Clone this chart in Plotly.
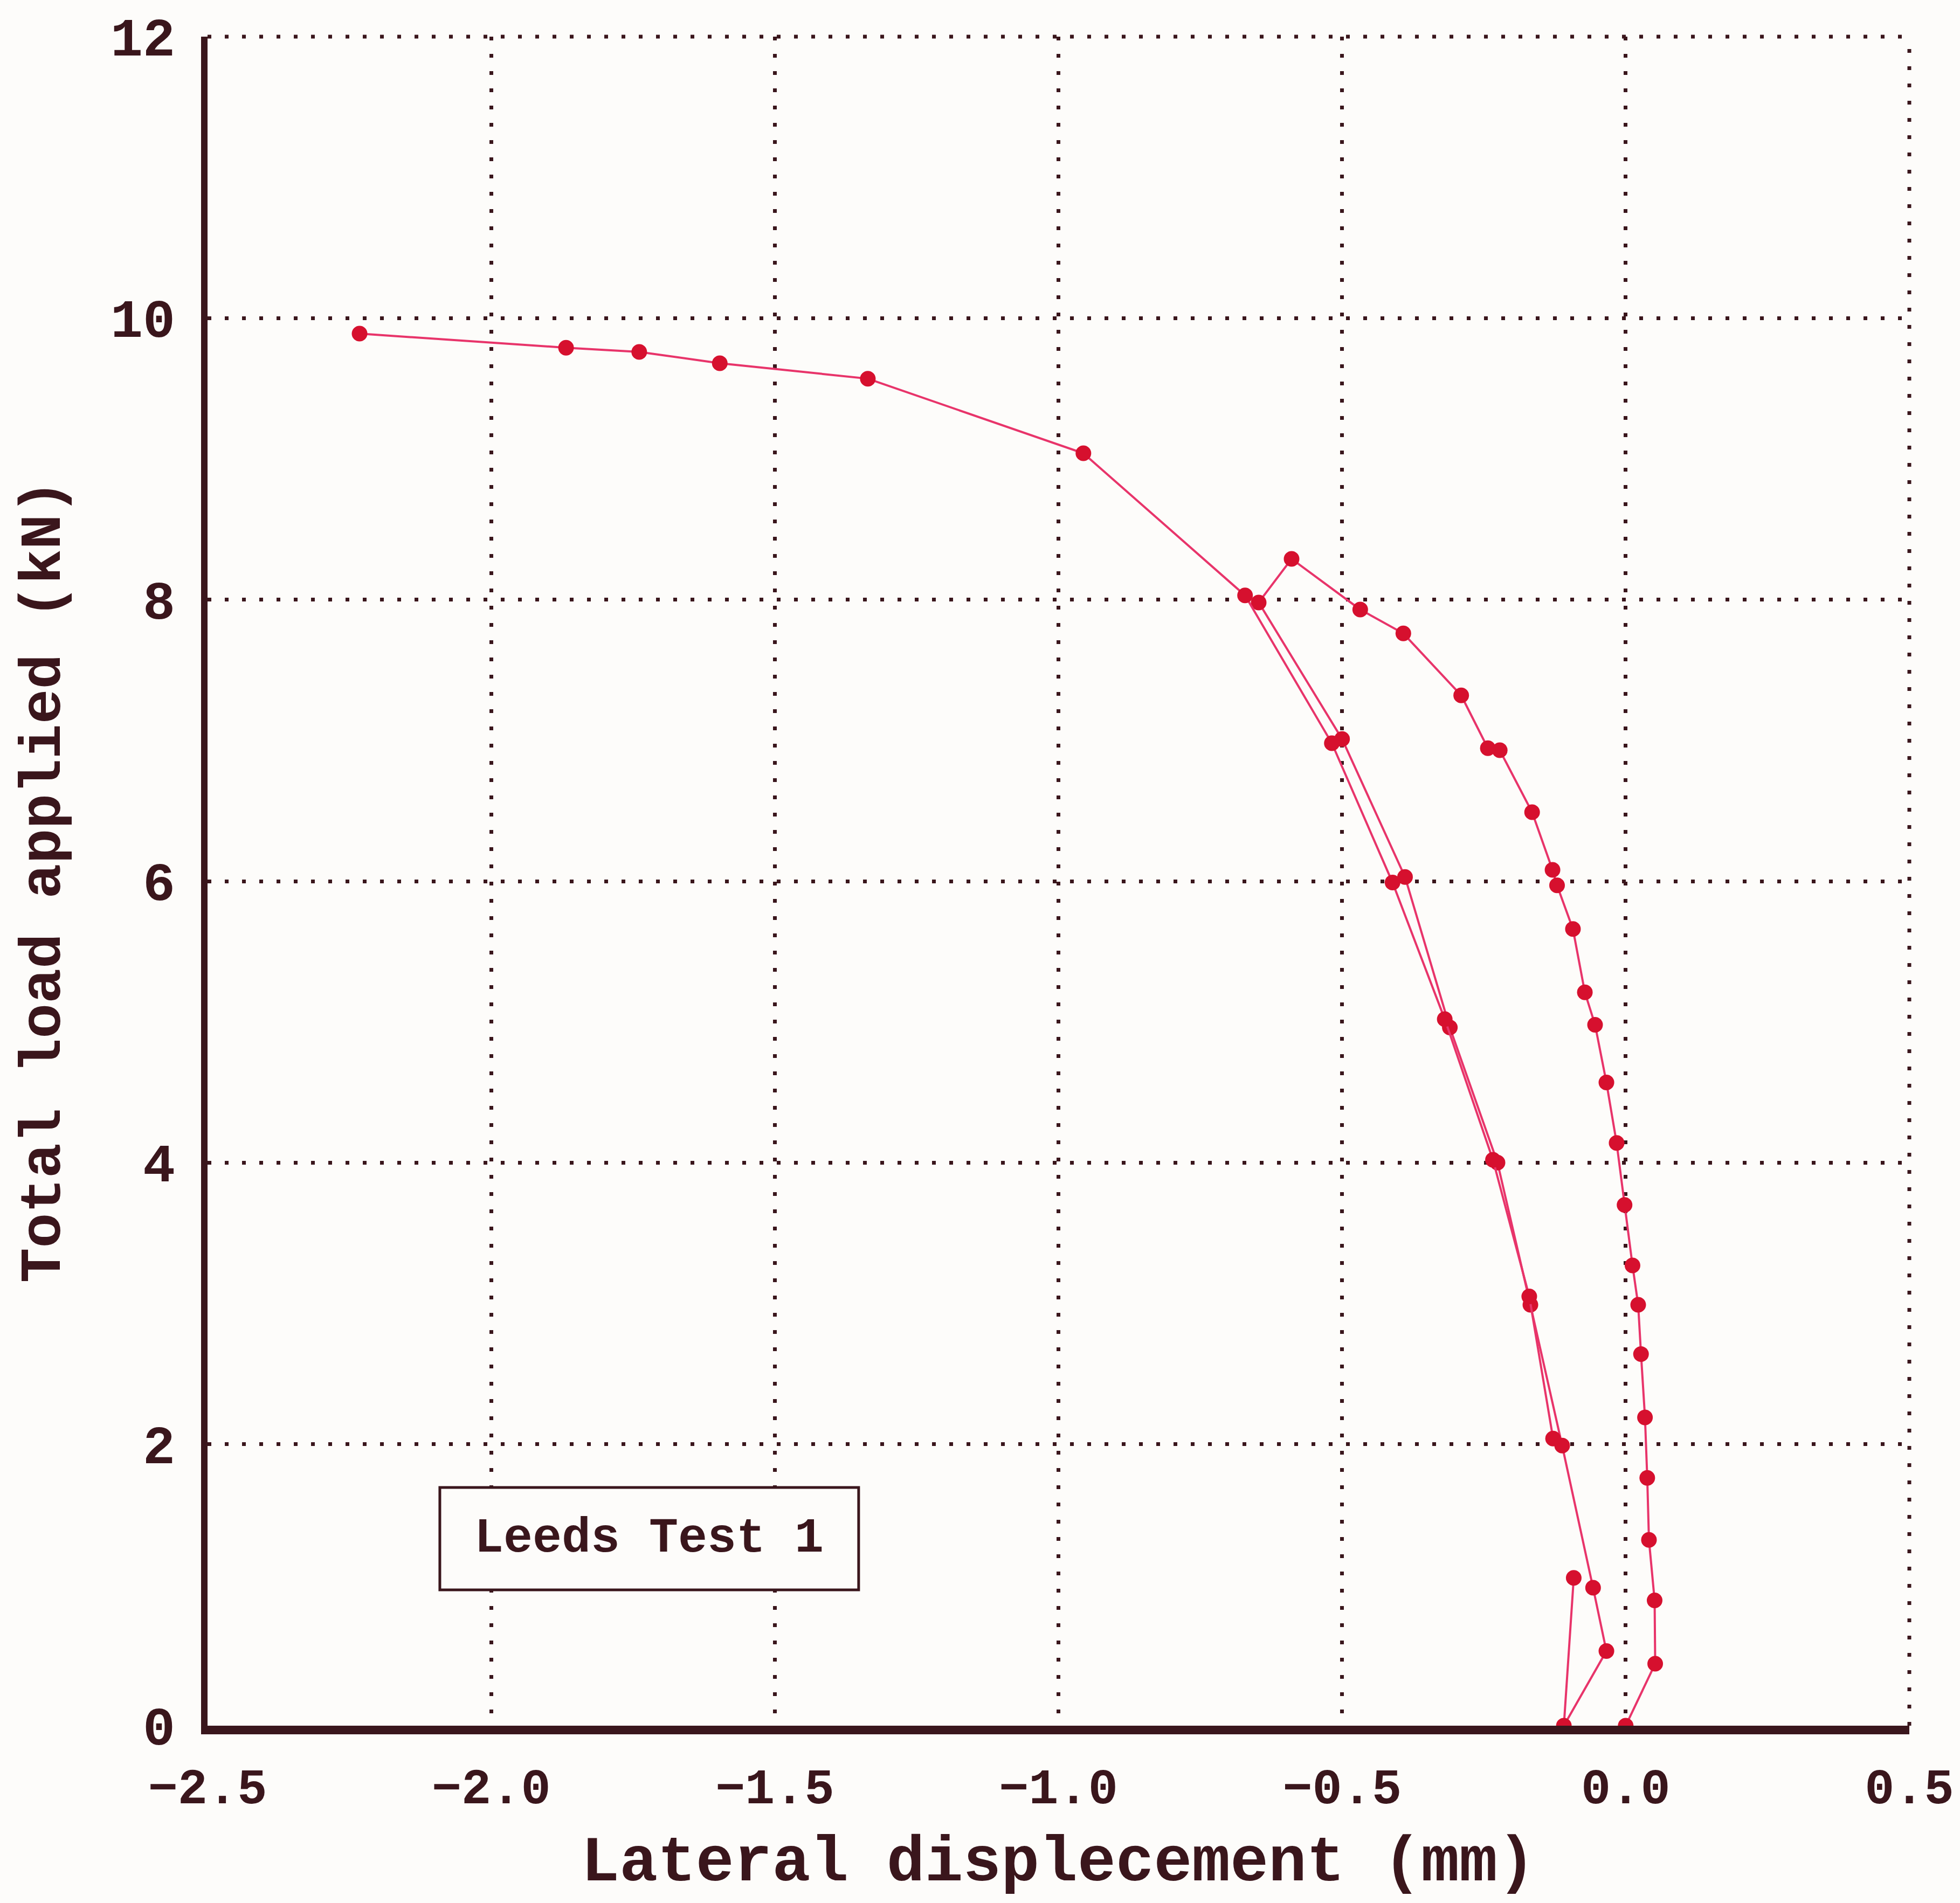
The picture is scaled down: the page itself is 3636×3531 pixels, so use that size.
import plotly.graph_objects as go

# ---- data ----
# first loading path, then unloading branch
load_x = [0.0, 0.052, 0.051, 0.041, 0.038, 0.034, 0.027, 0.022, 0.012, -0.002,
          -0.016, -0.034, -0.054, -0.072, -0.093, -0.121, -0.129, -0.165, -0.222,
          -0.243, -0.290, -0.392, -0.468, -0.589, -0.647, -0.500, -0.389, -0.310,
          -0.226, -0.168, -0.112, -0.0575, -0.034, -0.109, -0.0916]
load_y = [0.0, 0.44, 0.89, 1.32, 1.76, 2.19, 2.64, 2.99, 3.27, 3.70,
          4.14, 4.57, 4.98, 5.21, 5.66, 5.97, 6.08, 6.49, 6.93,
          6.945, 7.32, 7.76, 7.93, 8.29, 7.98, 7.01, 6.03, 4.96,
          4.00, 2.99, 1.99, 0.98, 0.53, 0.0, 1.05]
# reloading branch to failure
reload_x = [-0.128, -0.170, -0.234, -0.319, -0.411, -0.518, -0.671, -0.956,
            -1.336, -1.597, -1.739, -1.868, -2.232]
reload_y = [2.04, 3.05, 4.02, 5.02, 5.99, 6.98, 8.03, 9.04,
            9.57, 9.68, 9.76, 9.79, 9.89]

x_range = [-2.5, 0.5]
y_range = [0, 12]
x_tickvals = [-2.5, -2.0, -1.5, -1.0, -0.5, 0.0, 0.5]
x_ticktext = ["\u22122.5", "\u22122.0", "\u22121.5", "\u22121.0", "\u22120.5", "0.0", "0.5"]
y_tickvals = [0, 2, 4, 6, 8, 10, 12]
y_ticktext = ["0", "2", "4", "6", "8", "10", "12"]

x_title = "Lateral displecement (mm)"
y_title = "Total load applied (kN)"
label_text = "Leeds Test 1"

# ---- styling ----
INK = "#3a161c"
LINE = "#e8346a"
DOT = "#d6102e"
BG = "#fdfcfa"
FONT = "Liberation Mono, Courier New, monospace"
GRID_DASH = "7px,25px"

fig = go.Figure()
for xs, ys in [(load_x, load_y), (reload_x, reload_y)]:
    fig.add_trace(go.Scatter(
        x=xs, y=ys, mode="lines+markers",
        line=dict(color=LINE, width=4),
        marker=dict(color=DOT, size=29, line=dict(width=0)),
        showlegend=False,
    ))

axis_common = dict(
    showgrid=True, gridcolor=INK, gridwidth=7, griddash=GRID_DASH,
    zeroline=False, showline=True, linecolor=INK,
    ticks="outside", tickcolor="rgba(0,0,0,0)",
)

fig.update_xaxes(
    range=x_range, tickvals=x_tickvals, ticktext=x_ticktext,
    linewidth=16, ticklen=18,
    tickfont=dict(family=FONT, size=92, color=INK, weight="bold"),
    title=dict(text=x_title, font=dict(family=FONT, size=118, color=INK, weight="bold"), standoff=40),
    **axis_common,
)
fig.update_yaxes(
    range=y_range, tickvals=y_tickvals, ticktext=y_ticktext,
    linewidth=12, ticklen=28,
    tickfont=dict(family=FONT, size=100, color=INK, weight="bold"),
    title=dict(text=y_title, font=dict(family=FONT, size=108, color=INK, weight="bold"), standoff=62),
    **axis_common,
)

# dotted grid lines on the frame edges (top and right), not clipped
fig.add_shape(type="line", xref="paper", yref="paper", x0=0, x1=1, y0=1, y1=1,
              line=dict(color=INK, width=7, dash=GRID_DASH), layer="below")
fig.add_shape(type="line", xref="paper", yref="paper", x0=1, x1=1, y0=0, y1=1,
              line=dict(color=INK, width=7, dash=GRID_DASH), layer="below")

# label box
fig.add_shape(type="rect", xref="paper", yref="paper",
              x0=0.1365, x1=0.3826, y0=0.0804, y1=0.141,
              line=dict(color=INK, width=5), fillcolor=BG, layer="above")
fig.add_annotation(xref="paper", yref="paper", x=(0.1365 + 0.3826) / 2, y=(0.0804 + 0.141) / 2,
                   text=label_text, showarrow=False,
                   font=dict(family=FONT, size=90, color=INK, weight="bold"),
                   xanchor="center", yanchor="middle")

fig.update_layout(
    width=3636, height=3531,
    margin=dict(l=385, r=94, t=68, b=329),
    paper_bgcolor=BG, plot_bgcolor=BG,
)

fig.write_html("out.html")
